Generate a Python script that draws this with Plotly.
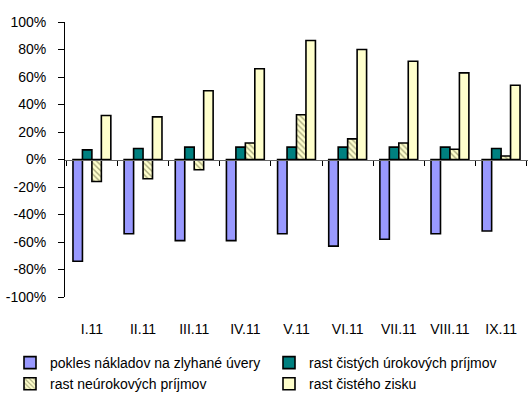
import plotly.graph_objects as go

categories = ["I.11", "II.11", "III.11", "IV.11", "V.11", "VI.11", "VII.11", "VIII.11", "IX.11"]
pokles_nakladov = [-74, -54, -59, -59, -54, -63, -58, -54, -52]
rast_urokovych = [7, 8, 9, 9, 9, 9, 9, 9, 8]
rast_neurokovych = [-16, -14, -7.5, 12, 32.5, 15, 12, 7.5, 2.5]
rast_zisku = [32, 31, 50, 66, 86.5, 80, 71.5, 63, 54]
y_ticks = [-100, -80, -60, -40, -20, 0, 20, 40, 60, 80, 100]
y_tick_labels = [f"{v}%" for v in y_ticks]

W, H = 528, 402
FONT = "Liberation Sans, Arial, sans-serif"
line = dict(color="black", width=1.6)

x_dom = [65 / W, 1.0]
y_dom = [(H - 297) / H, (H - 22) / H]
zero_pos = (y_dom[0] + y_dom[1]) / 2

fig = go.Figure()
fig.add_trace(go.Bar(name="pokles nákladov na zlyhané úvery", x=categories, y=pokles_nakladov,
                     marker=dict(color="#9999FF", line=line)))
fig.add_trace(go.Bar(name="rast čistých úrokových príjmov", x=categories, y=rast_urokovych,
                     marker=dict(color="#008080", line=line)))
fig.add_trace(go.Bar(name="rast neúrokových príjmov", x=categories, y=rast_neurokovych,
                     marker=dict(color="#FFFFCC", line=line,
                                 pattern=dict(shape="\\", fgcolor="#555533", bgcolor="#FFFFCC",
                                              size=4, solidity=0.35, fillmode="overlay"))))
fig.add_trace(go.Bar(name="rast čistého zisku", x=categories, y=rast_zisku,
                     marker=dict(color="#FFFFCC", line=line)))
# helper trace for the zero-line axis with boundary ticks
fig.add_trace(go.Scatter(x=categories, y=[0] * len(categories), xaxis="x2", mode="markers",
                         marker=dict(opacity=0), showlegend=False, hoverinfo="skip"))

fig.update_layout(
    width=W, height=H,
    margin=dict(l=0, r=0, t=0, b=0, autoexpand=False),
    paper_bgcolor="white", plot_bgcolor="white",
    font=dict(family=FONT, size=14, color="black"),
    barmode="group", bargap=0.26, bargroupgap=0,
    xaxis=dict(type="category", categoryarray=categories, domain=x_dom, showline=False,
               showgrid=False, zeroline=False, ticks="", ticklabelstandoff=22,
               tickfont=dict(size=14), automargin=False),
    xaxis2=dict(type="category", categoryarray=categories, overlaying="x", anchor="free",
                position=zero_pos, side="bottom", showline=True, linecolor="#666666",
                linewidth=1, ticks="outside", tickson="boundaries", ticklen=5,
                tickcolor="black", showticklabels=False, showgrid=False, zeroline=False,
                matches="x", automargin=False),
    yaxis=dict(range=[-100, 100], domain=y_dom, tickvals=y_ticks, ticktext=y_tick_labels,
               showline=True, linecolor="black", linewidth=1, ticks="outside", ticklen=6,
               tickcolor="black", showgrid=False, zeroline=False, tickfont=dict(size=14),
               ticklabelstandoff=9, automargin=False),
    legend=dict(orientation="h", x=10 / W, xanchor="left", y=1 - 347 / H, yanchor="top",
                entrywidth=214, entrywidthmode="pixels", font=dict(size=14),
                itemwidth=30, tracegroupgap=0, traceorder="normal"),
    showlegend=True,
)

fig.write_html("out.html", config={"displayModeBar": False},
               post_script="document.body.style.margin='0px';")
